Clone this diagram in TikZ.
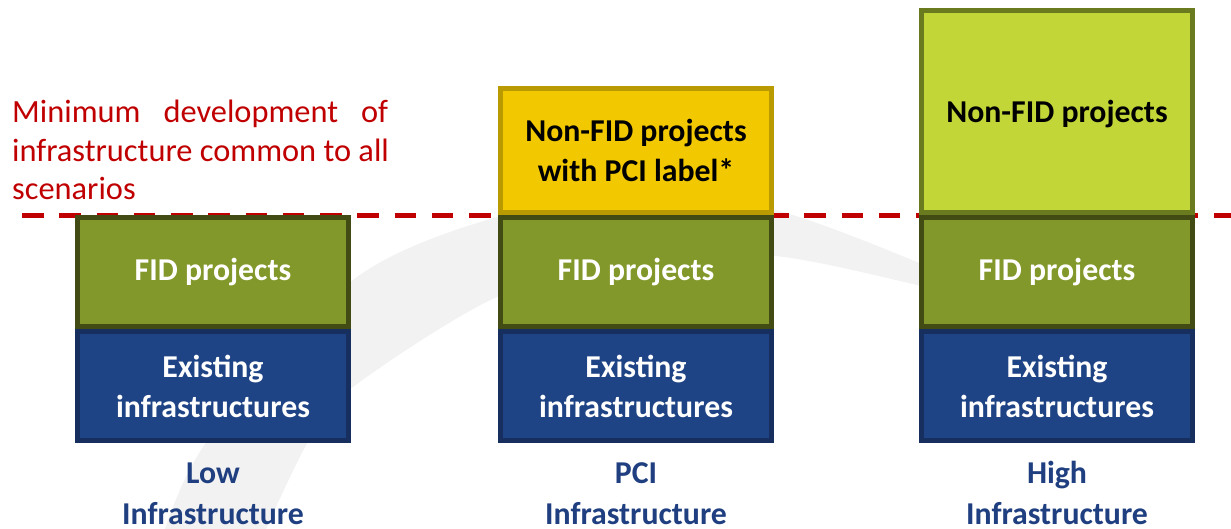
\documentclass[tikz,border=0pt]{standalone}
\usepackage{fontspec}
\setmainfont{Carlito}
\definecolor{fidfill}{HTML}{83982A}
\definecolor{fiddraw}{HTML}{434B14}
\definecolor{exfill}{HTML}{1F4485}
\definecolor{exdraw}{HTML}{162F5E}
\definecolor{pcifill}{HTML}{F2C900}
\definecolor{pcidraw}{HTML}{B99A00}
\definecolor{hifill}{HTML}{C3D637}
\definecolor{hidraw}{HTML}{6A7A1F}
\definecolor{minred}{HTML}{C00000}
\definecolor{lblue}{HTML}{1F3F80}
\definecolor{swoosh}{HTML}{F2F2F2}
\begin{document}
\begin{tikzpicture}[x=1pt,y=-1pt,
  box/.style={rectangle, draw, line width=5pt, minimum width=271pt, inner sep=0pt,
    align=center, font=\bfseries\fontsize{31.8}{40}\selectfont},
  fidbox/.style={box, fill=fidfill, draw=fiddraw, text=white, minimum height=109pt},
  exbox/.style={box, fill=exfill, draw=exdraw, text=white, minimum height=109pt},
  pcibox/.style={box, fill=pcifill, draw=pcidraw, text=black, minimum height=124pt},
  hibox/.style={box, fill=hifill, draw=hidraw, text=black, minimum height=202pt, text depth=0pt},
  redtxt/.style={anchor=base west, inner sep=0pt, text=minred, font=\fontsize{32.4}{39}\selectfont},
  scen/.style={anchor=base, inner sep=0pt, text depth=0pt, text=lblue, font=\bfseries\fontsize{31.8}{42}\selectfont},
  mindash/.style={draw=minred, line width=5pt, dash pattern=on 21.5pt off 15.75pt}
]
\useasboundingbox (0,0) rectangle (1231,529);
% background swoosh
\fill[swoosh] plot[smooth] coordinates {(165,529) (208,440) (353,280) (497,217) (640,196) (775,210) (917,262) (960,285)}
  -- plot[smooth] coordinates {(960,298) (917,285) (775,256) (640,260) (497,297) (353,387) (309,440) (266,529)} -- cycle;
% dashed threshold line
\coordinate (dl) at (22,216);
\coordinate (dr) at (1231,216);
\draw[mindash] (dl) -- (dr);
% red text
\node[redtxt] (r1) at (12,123) {\makebox[376pt][s]{Minimum development of}};
\node[redtxt] (r2) at (12,162) {infrastructure common to all};
\node[redtxt] (r3) at (12,200) {scenarios};
% column 1
\node[exbox] (ex1) at (213,386) {Existing\\infrastructures};
\node[fidbox] (fid1) at (213,272) {FID projects};
% column 2
\node[exbox] (ex2) at (636,386) {Existing\\infrastructures};
\node[pcibox] (pci2) at (636,150.5) {Non-FID projects\\with PCI label*};
\node[fidbox] (fid2) at (636,272) {FID projects};
% column 3
\node[exbox] (ex3) at (1057,386) {Existing\\infrastructures};
\node[hibox] (hi3) at (1057,111.5) {Non-FID projects};
\node[fidbox] (fid3) at (1057,272) {FID projects};
% scenario labels
\node[scen] (s1a) at (213,483) {Low};
\node[scen] (s1b) at (213,524) {Infrastructure};
\node[scen] (s2a) at (636,483) {PCI};
\node[scen] (s2b) at (636,524) {Infrastructure};
\node[scen] (s3a) at (1057,483) {High};
\node[scen] (s3b) at (1057,524) {Infrastructure};
\end{tikzpicture}
\end{document}
